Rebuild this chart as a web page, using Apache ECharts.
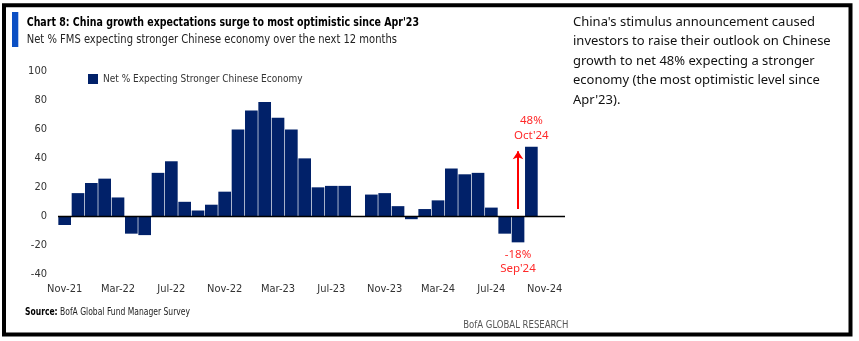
<!DOCTYPE html>
<html>
<head>
<meta charset="utf-8">
<script src="https://cdn.jsdelivr.net/npm/echarts@6/dist/echarts.min.js"></script>
<style>html,body{margin:0;padding:0;background:#fff;}#c{width:859px;height:341px;}</style>
</head>
<body>
<div id="c"></div>
<script>
var categories = ["Nov-21","Dec-21","Jan-22","Feb-22","Mar-22","Apr-22","May-22","Jun-22","Jul-22","Aug-22","Sep-22","Oct-22",
  "Nov-22","Dec-22","Jan-23","Feb-23","Mar-23","Apr-23","May-23","Jun-23","Jul-23","Aug-23","Sep-23","Oct-23",
  "Nov-23","Dec-23","Jan-24","Feb-24","Mar-24","Apr-24","May-24","Jun-24","Jul-24","Aug-24","Sep-24","Oct-24",
  "Nov-24","Dec-24"];
var netStronger = [-6,16,23,26,13,-12,-13,30,38,10,4,8,
  17,60,73,79,68,60,40,20,21,21,null,15,
  16,7,-2,5,11,33,29,30,6,-12,-18,48,
  null,null];
var yTicks = {min:-40, max:100, interval:20};
var seriesName = "Net % Expecting Stronger Chinese Economy";
var arrowFrom = ["Sep-24", 5];
var arrowTo = ["Sep-24", 45];

var NARROW = "'Liberation Sans Narrow','DejaVu Sans Condensed','Arial Narrow',sans-serif";
var NOTO = "'Noto Sans','Open Sans',sans-serif";

var barData = netStronger.map(function(v, i){
  var c = categories[i];
  if (c === "Oct-24") {
    return {value: v, label: {show: true, position: 'top', distance: 4, formatter: v + "%\nOct'24", color: '#ff2a2a', fontSize: 11.5, lineHeight: 15, fontFamily: NOTO}};
  }
  if (c === "Sep-24") {
    return {value: v, label: {show: true, position: 'bottom', distance: 5, formatter: v + "%\nSep'24", color: '#ff2a2a', fontSize: 11.5, lineHeight: 14, fontFamily: NOTO}};
  }
  return v;
});

var chart = echarts.init(document.getElementById('c'), null, {renderer: 'canvas'});
chart.setOption({
  animation: false,
  backgroundColor: '#fff',
  grid: {left: 58, right: 294.3, top: 71.5, bottom: 66.8, containLabel: false},
  legend: {
    show: true, left: 83, top: 69, itemWidth: 10, itemHeight: 10, icon: 'rect',
    data: [seriesName],
    textStyle: {fontFamily: NARROW, fontSize: 10, color: '#333'}
  },
  xAxis: {
    type: 'category', data: categories,
    axisLine: {show: false, onZero: false}, axisTick: {show: false},
    axisLabel: {interval: 3, margin: 9, fontFamily: NARROW, fontSize: 11, color: '#333'},
    splitLine: {show: false}
  },
  yAxis: {
    type: 'value', min: yTicks.min, max: yTicks.max, interval: yTicks.interval,
    axisLine: {show: false}, axisTick: {show: false}, splitLine: {show: false},
    axisLabel: {margin: 11, fontFamily: NARROW, fontSize: 11, color: '#333'}
  },
  series: [{
    name: seriesName, type: 'bar', data: barData,
    barCategoryGap: '5%',
    itemStyle: {color: '#012169'},
    markLine: {
      silent: true, animation: false,
      data: [
        [{yAxis: 0, x: 58, symbol: 'none', lineStyle: {color: '#000', width: 1.3}}, {yAxis: 0, x: 565, symbol: 'none'}],
        [{coord: arrowFrom, symbol: 'none', lineStyle: {color: '#ff0000', width: 2}}, {coord: arrowTo, symbol: 'arrow', symbolSize: 8}]
      ],
      label: {show: false},
      lineStyle: {type: 'solid'},
      emphasis: {disabled: true}
    }
  }],
  graphic: [
    {type: 'rect', shape: {x: 4, y: 5.3, width: 846.5, height: 329.2}, style: {fill: 'none', stroke: '#000', lineWidth: 4}},
    {type: 'rect', shape: {x: 12, y: 12, width: 6.3, height: 35}, style: {fill: '#0b4fc4'}},
    {type: 'text', x: 26.7, y: 23, scaleX: 0.808, style: {text: "Chart 8: China growth expectations surge to most optimistic since Apr'23", font: "bold 13px " + NARROW, fill: '#000', verticalAlign: 'middle'}},
    {type: 'text', x: 26.7, y: 40, scaleX: 0.853, style: {text: "Net % FMS expecting stronger Chinese economy over the next 12 months", font: "13px " + NARROW, fill: '#222', verticalAlign: 'middle'}},
    {type: 'text', x: 573, y: 12, style: {text: "China's stimulus announcement caused\ninvestors to raise their outlook on Chinese\ngrowth to net 48% expecting a stronger\neconomy (the most optimistic level since\nApr'23).", font: "13px " + NOTO, fill: '#111', lineHeight: 19.6}},
    {type: 'text', x: 25, y: 312.7, scaleX: 0.846, style: {text: "{b|Source:} BofA Global Fund Manager Survey", verticalAlign: 'middle', rich: {b: {fontWeight: 'bold', fontFamily: NARROW, fontSize: 10, fill: '#000'}}, font: "10px " + NARROW, fill: '#222'}},
    {type: 'text', x: 568.3, y: 325, scaleX: 0.946, style: {text: "BofA GLOBAL RESEARCH", font: "10px " + NARROW, fill: '#555', align: 'right', verticalAlign: 'middle'}}
  ]
});
</script>
</body>
</html>
